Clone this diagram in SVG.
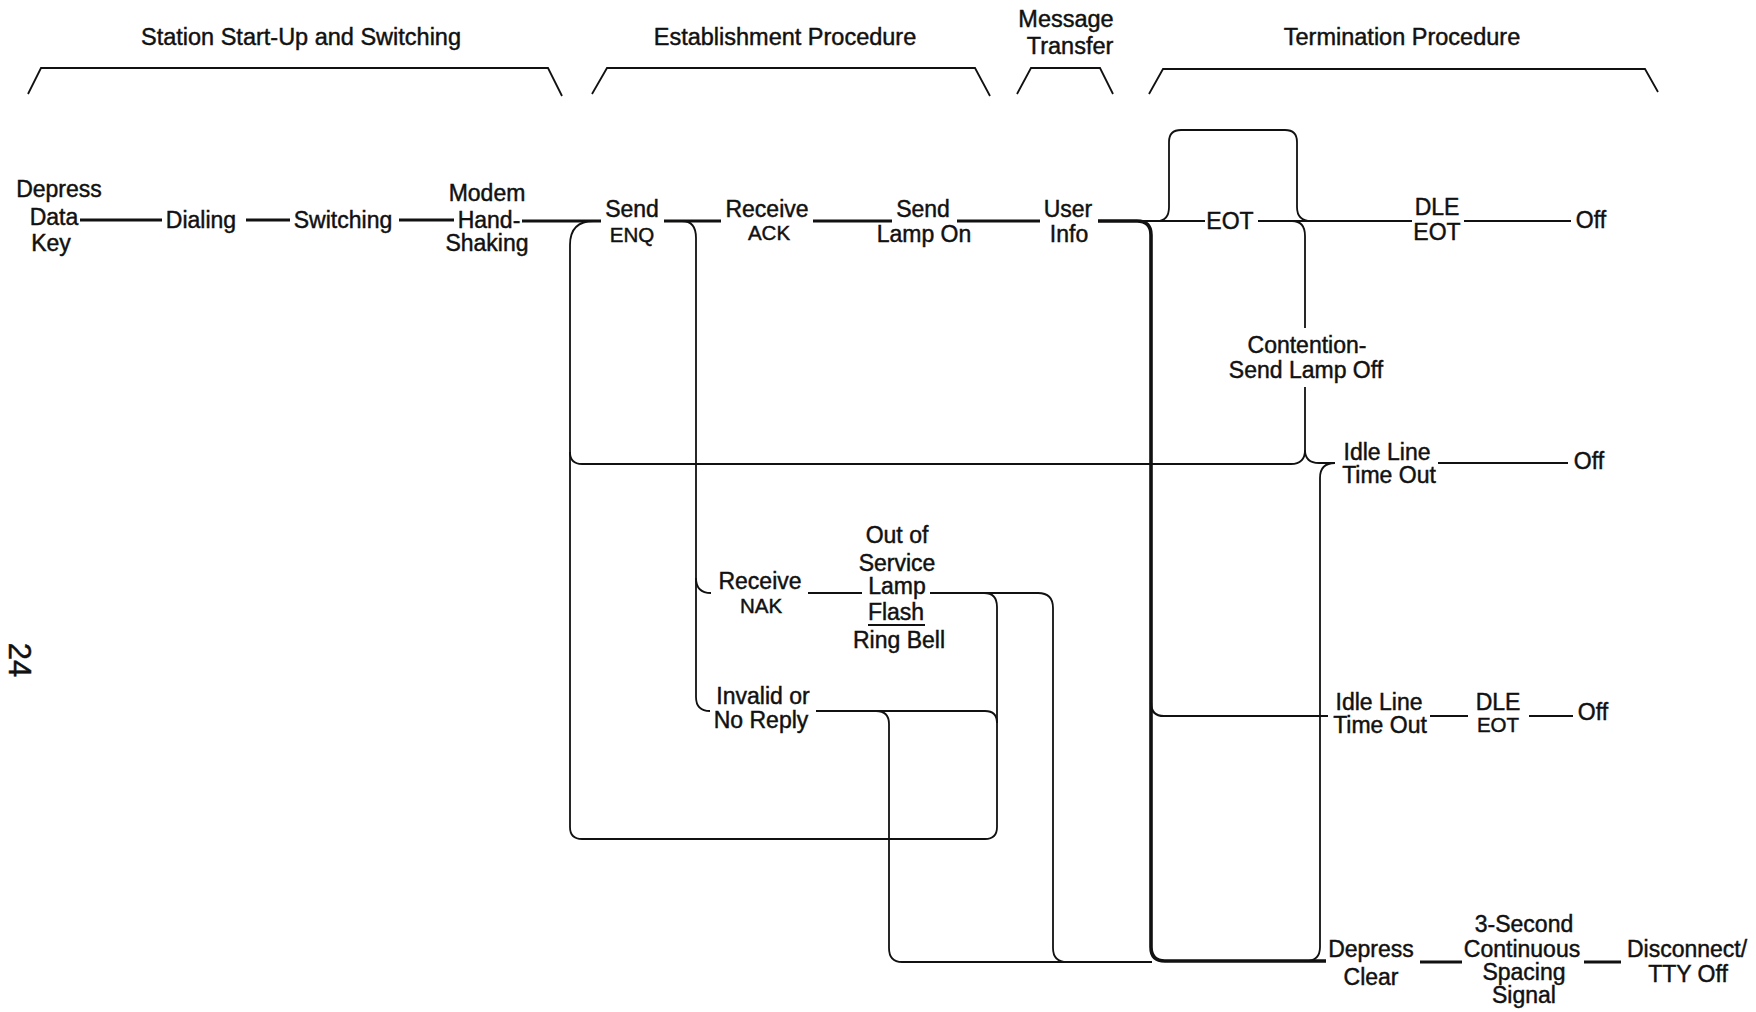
<svg xmlns="http://www.w3.org/2000/svg" width="1756" height="1012" viewBox="0 0 1756 1012">
<style>
text{font-family:"Liberation Sans",Arial,Helvetica,sans-serif;fill:#111;stroke:#111;stroke-width:0.45px;text-anchor:middle}
.t{font-size:23px}
.s{font-size:20.5px}
.h{font-size:23.5px}
.pg{font-size:31px}
.thick{fill:none;stroke:#111;stroke-width:3.2}
.bold{fill:none;stroke:#111;stroke-width:3.6}
.thin{fill:none;stroke:#111;stroke-width:1.8}
.med{fill:none;stroke:#111;stroke-width:2.2}
</style>
<rect width="1756" height="1012" fill="#fff"/>
<g id="phases">
<g id="phase-startup"><path class="thin" d="M28,94 L41,68 H548 L562,96"/><text class="h" x="301" y="45">Station Start-Up and Switching</text></g>
<g id="phase-establish"><path class="thin" d="M592,94 L607,68 H975 L990,96"/><text class="h" x="785" y="45">Establishment Procedure</text></g>
<g id="phase-message"><path class="thin" d="M1017,94 L1031,68 H1100 L1113,94"/><text class="h" x="1066" y="27">Message</text><text class="h" x="1070" y="54">Transfer</text></g>
<g id="phase-termination"><path class="thin" d="M1149,94 L1163,69 H1645 L1658,92"/><text class="h" x="1402" y="45">Termination Procedure</text></g>
</g>
<g id="connectors">
<path class="thick" d="M80,220 H162"/>
<path class="thick" d="M246,220 H290"/>
<path class="thick" d="M399,220 H454"/>
<path class="thick" d="M522,221 H601"/>
<path class="thick" d="M664,221 H721"/>
<path class="thick" d="M813,221 H892"/>
<path class="thick" d="M957,221 H1040"/>
<path class="bold" d="M1098,221 H1137 Q1151,221 1151,235 V947 Q1151,961 1165,961 H1326"/>
<path class="thin" d="M1140,221 H1205"/>
<path class="thin" d="M1157,221 Q1169,221 1169,207 V142 Q1169,130 1181,130 H1285 Q1297,130 1297,142 V207 Q1297,221 1311,221"/>
<path class="thin" d="M1258,221 H1412"/>
<path class="thin" d="M1464,221 H1571"/>
<path class="thin" d="M1292,221 Q1305,221 1305,236 V328"/>
<path class="thin" d="M1305,387 V450 Q1305,464 1291,464 H582 Q570,464 570,452"/>
<path class="thin" d="M1305,450 Q1305,463 1319,463 H1335"/>
<path class="thin" d="M1335,463 Q1320,463 1320,478 V947 Q1320,961 1306,961"/>
<path class="thin" d="M1438,463 H1568"/>
<path class="thin" d="M594,221 Q570,221 570,245 V827 Q570,839 582,839 H985 Q997,839 997,827 V607 Q997,593 984,593"/>
<path class="thin" d="M682,221 Q696,221 696,238 V697 Q696,711 710,711"/>
<path class="thin" d="M696,578 Q696,593 711,593"/>
<path class="med" d="M808,593 H862"/>
<path class="thin" d="M930,593 H1038 Q1053,593 1053,608 V948 Q1053,962 1067,962"/>
<path class="thin" d="M816,711 H985 Q997,711 997,723"/>
<path class="thin" d="M876,711 Q889,711 889,724 V948 Q889,962 902,962 H1152"/>
<path class="med" d="M1151,703 Q1151,716 1164,716 H1328"/>
<path class="med" d="M1430,716 H1468"/>
<path class="med" d="M1529,716 H1573"/>
<path class="thick" d="M1420,962 H1462"/>
<path class="thick" d="M1584,962 H1621"/>
</g>
<g id="n-depress-data-key"><text class="t" x="59" y="197">Depress</text><text class="t" x="54" y="225">Data</text><text class="t" x="51" y="251">Key</text></g>
<g id="n-dialing"><text class="t" x="201" y="228">Dialing</text></g>
<g id="n-switching"><text class="t" x="343" y="228">Switching</text></g>
<g id="n-modem"><text class="t" x="487" y="201">Modem</text><text class="t" x="489" y="228">Hand-</text><text class="t" x="487" y="251">Shaking</text></g>
<g id="n-send-enq"><text class="t" x="632" y="217">Send</text><text class="s" x="632" y="242">ENQ</text></g>
<g id="n-receive-ack"><text class="t" x="767" y="217">Receive</text><text class="s" x="769" y="240">ACK</text></g>
<g id="n-send-lamp"><text class="t" x="923" y="217">Send</text><text class="t" x="924" y="242">Lamp On</text></g>
<g id="n-user-info"><text class="t" x="1068" y="217">User</text><text class="t" x="1069" y="242">Info</text></g>
<g id="n-eot"><text class="t" x="1230" y="229">EOT</text></g>
<g id="n-dle-eot-1"><text class="t" x="1437" y="215">DLE</text><text class="t" x="1437" y="240">EOT</text></g>
<g id="n-off-1"><text class="t" x="1591" y="228">Off</text></g>
<g id="n-contention"><text class="t" x="1307" y="353">Contention-</text><text class="t" x="1306" y="378">Send Lamp Off</text></g>
<g id="n-idle-1"><text class="t" x="1387" y="460">Idle Line</text><text class="t" x="1389" y="483">Time Out</text></g>
<g id="n-off-2"><text class="t" x="1589" y="469">Off</text></g>
<g id="n-receive-nak"><text class="t" x="760" y="589">Receive</text><text class="s" x="761" y="613">NAK</text></g>
<g id="n-out-of-service"><text class="t" x="897" y="543">Out of</text><text class="t" x="897" y="571">Service</text><text class="t" x="897" y="594">Lamp</text><text class="t" x="896" y="620">Flash</text><path class="thin" d="M868,625 H925"/><text class="t" x="899" y="648">Ring Bell</text></g>
<g id="n-invalid"><text class="t" x="763" y="704">Invalid or</text><text class="t" x="761" y="728">No Reply</text></g>
<g id="n-idle-2"><text class="t" x="1379" y="710">Idle Line</text><text class="t" x="1380" y="733">Time Out</text></g>
<g id="n-dle-eot-2"><text class="t" x="1498" y="710">DLE</text><text class="s" x="1498" y="732">EOT</text></g>
<g id="n-off-3"><text class="t" x="1593" y="720">Off</text></g>
<g id="n-depress-clear"><text class="t" x="1371" y="957">Depress</text><text class="t" x="1371" y="985">Clear</text></g>
<g id="n-spacing"><text class="t" x="1524" y="932">3-Second</text><text class="t" x="1522" y="957">Continuous</text><text class="t" x="1524" y="980">Spacing</text><text class="t" x="1524" y="1003">Signal</text></g>
<g id="n-disconnect"><text class="t" x="1687" y="957">Disconnect/</text><text class="t" x="1688" y="982">TTY Off</text></g>
<g id="page-number"><text class="pg" transform="translate(9,660) rotate(90)" x="0" y="0">24</text></g>
</svg>
